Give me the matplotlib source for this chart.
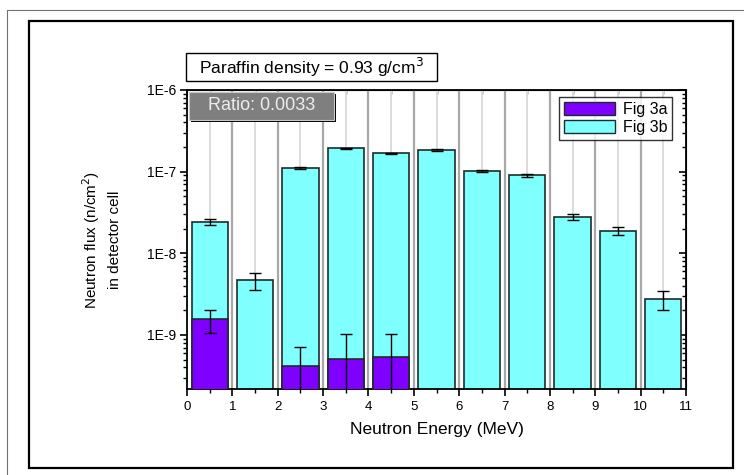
"""Neutron flux per 1 MeV energy bin in the detector cell (paraffin 0.93 g/cm3)."""
import matplotlib
matplotlib.use("Agg")
import matplotlib.pyplot as plt
import numpy as np
from matplotlib.patches import Rectangle, Patch
from matplotlib.lines import Line2D
from matplotlib.ticker import FixedLocator, FuncFormatter, LogLocator, NullFormatter

plt.rcParams["font.family"] = ["Liberation Sans", "DejaVu Sans"]

# energy bins (MeV, left edges) and fluxes
bins_b = [0, 1, 2, 3, 4, 5, 6, 7, 8, 9, 10]
flux_b = [2.43e-8, 4.66e-9, 1.12e-7, 1.93e-7, 1.67e-7, 1.84e-7, 1.03e-7, 9.0e-8,
          2.8e-8, 1.87e-8, 2.77e-9]
err_b = [2.2e-9, 1.1e-9, 3e-9, 4e-9, 3e-9, 4e-9, 3e-9, 3e-9, 2.6e-9, 2.1e-9, 7.2e-10]

bins_a = [0, 2, 3, 4]
flux_a = [1.55e-9, 4.15e-10, 5.1e-10, 5.35e-10]
err_a = [5e-10, 3e-10, 5.3e-10, 4.8e-10]

y_major = [1e-9, 1e-8, 1e-7, 1e-6]
labels = ["Fig 3a", "Fig 3b"]
density_text = "Paraffin density = 0.93 g/cm$^{3}$"
ratio_text = "Ratio: 0.0033"

C_A = "#7f00ff"
C_B = "#80ffff"
EDGE = "#1c2c2c"

W, H = 744, 475
fig = plt.figure(figsize=(W / 100, H / 100), dpi=100)


def fx(px):
    return px / W


def fy(py):
    return 1 - py / H


ax = fig.add_axes([fx(187), fy(389), fx(686) - fx(187), fy(90) - fy(389)])
ax.set_yscale("log")
ax.set_xlim(0, 11)
ax.set_ylim(2.18e-10, 1e-6)

xb = np.array(bins_b) + 0.5
xa = np.array(bins_a) + 0.5
ax.bar(xb, flux_b, width=0.8, bottom=1e-13, color=C_B, edgecolor=EDGE, lw=1.2, zorder=2)
ax.bar(xa, flux_a, width=0.8, bottom=1e-13, color=C_A, edgecolor=EDGE, lw=1.2, zorder=3)
ax.errorbar(xb, flux_b, yerr=err_b, fmt="none", ecolor="black", elinewidth=1,
            capsize=4, capthick=1, zorder=4)
ax.errorbar(xa, flux_a, yerr=err_a, fmt="none", ecolor="black", elinewidth=1,
            capsize=4, capthick=1, zorder=4)

# grid behind bars
for x in range(1, 11):
    ax.axvline(x, color="#a8a8a8", lw=1.6, zorder=1)
for x in np.arange(0.5, 11, 1.0):
    ax.axvline(x, color="#dcdcdc", lw=1.4, zorder=1)

ax.xaxis.set_major_locator(FixedLocator(range(12)))
ax.xaxis.set_minor_locator(FixedLocator(np.arange(0.5, 11, 1.0)))
ax.yaxis.set_major_locator(FixedLocator(y_major))
ax.yaxis.set_minor_locator(LogLocator(base=10, subs=np.arange(2, 10), numticks=10))
ax.yaxis.set_major_formatter(FuncFormatter(lambda v, p: f"1E{int(round(np.log10(v)))}"))
ax.yaxis.set_minor_formatter(NullFormatter())
ax.tick_params(which="major", direction="out", length=5, width=1.2, colors="black")
ax.tick_params(axis="x", labelsize=9.5, pad=4)
ax.tick_params(axis="y", labelsize=10, pad=3)
ax.tick_params(which="minor", direction="out", length=3, width=1)
for s in ax.spines.values():
    s.set_linewidth(1.3)

# mirrored ticks pointing inward on top/right
top = ax.secondary_xaxis("top")
top.xaxis.set_major_locator(FixedLocator(range(12)))
top.xaxis.set_minor_locator(FixedLocator(np.arange(0.5, 11, 1.0)))
top.tick_params(which="major", direction="in", length=5, width=1.2, labeltop=False)
top.tick_params(which="minor", direction="in", length=3, width=1)
right = ax.secondary_yaxis("right")
right.yaxis.set_major_locator(FixedLocator(y_major))
right.yaxis.set_minor_locator(LogLocator(base=10, subs=np.arange(2, 10), numticks=10))
right.tick_params(which="major", direction="in", length=5, width=1.2, labelright=False)
right.tick_params(which="minor", direction="in", length=3, width=1, labelright=False)

ax.set_xlabel("Neutron Energy (MeV)", fontsize=12.5, labelpad=6)
ax.set_ylabel("Neutron flux (n/cm$^{2}$)\nin detector cell", fontsize=11,
              labelpad=18, linespacing=1.5)

handles = [Patch(facecolor=C_A, edgecolor=EDGE, lw=1), Patch(facecolor=C_B, edgecolor=EDGE, lw=1)]
leg = ax.legend(handles, labels, loc="upper right", bbox_to_anchor=(0.972, 0.977),
                fontsize=11.5, frameon=True, fancybox=False, edgecolor="black",
                borderpad=0.3, handlelength=3.2, handleheight=0.9, handletextpad=0.5,
                labelspacing=0.2, borderaxespad=0)
leg.get_frame().set_linewidth(1)
leg.set_zorder(6)

# text boxes above the plot
fig.patches.append(Rectangle((fx(186), fy(81)), fx(437) - fx(186), fy(53) - fy(81),
                             transform=fig.transFigure, facecolor="white",
                             edgecolor="black", lw=1, zorder=5))
fig.text(fx(311), fy(67), density_text, ha="center", va="center", fontsize=12.5, zorder=6)

fig.patches.append(Rectangle((fx(191), fy(122)), fx(336) - fx(191), fy(94) - fy(122),
                             transform=fig.transFigure, facecolor="black", lw=0, zorder=5))
fig.patches.append(Rectangle((fx(189), fy(120)), fx(334) - fx(189), fy(92) - fy(120),
                             transform=fig.transFigure, facecolor="#7f7f7f",
                             edgecolor="#c8c8c8", lw=0.8, zorder=5))
fig.text(fx(262), fy(106), ratio_text, ha="center", va="center", fontsize=13,
         color="#ececec", zorder=6)

# outer frames
fig.add_artist(Line2D([fx(7), fx(7), 1.0], [0.0, fy(10), fy(10)], color="#707070",
                      lw=0.8, transform=fig.transFigure, zorder=0))
fig.patches.append(Rectangle((fx(29), fy(468)), fx(733) - fx(29), fy(21) - fy(468),
                             transform=fig.transFigure, fill=False, edgecolor="black",
                             lw=1.6, zorder=0))

fig.savefig("out.png", dpi=100)
